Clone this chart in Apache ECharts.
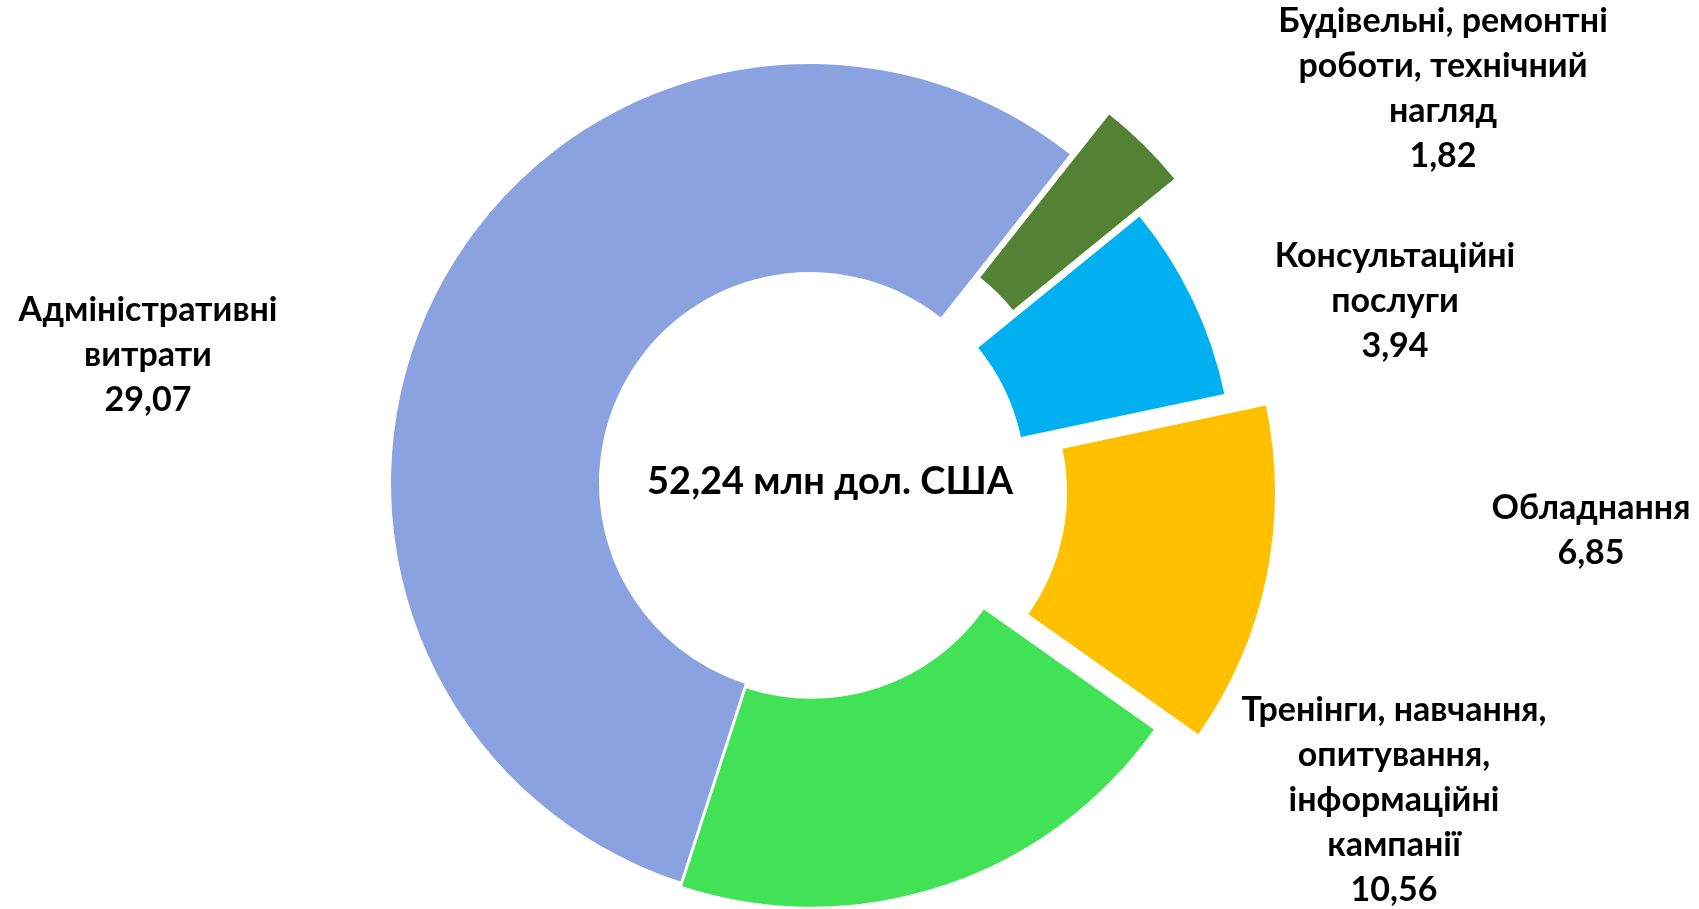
<!DOCTYPE html>
<html>
<head>
<meta charset="utf-8">
<script src="https://cdn.jsdelivr.net/npm/echarts@6/dist/echarts.min.js"></script>
<style>
  html, body { margin: 0; padding: 0; background: #fff; }
  #chart { width: 1699px; height: 909px; }
</style>
</head>
<body>
<div id="chart"></div>
<script>
// data
const categories = [
  "Адміністративні\nвитрати",
  "Будівельні, ремонтні\nроботи, технічний\nнагляд",
  "Консультаційні\nпослуги",
  "Обладнання",
  "Тренінги, навчання,\nопитування,\nінформаційні\nкампанії"
];
const values = [29.07, 1.82, 3.94, 6.85, 10.56];
const totalText = "52,24 млн дол. США";

// look
const colors = ["#8BA2E0", "#548235", "#00B0F0", "#FFC000", "#42E256"];
const explode = [0, 56, 5, 47, 5];
const labelPos = [[148, 355], [1443, 89], [1395, 301], [1591, 531], [1394, 800]];
const FONT = "Lato, 'Open Sans', sans-serif";
const CENTER = [810, 483];
const RADIUS = [211, 419];

const chart = echarts.init(document.getElementById("chart"));

function basePie() {
  return {
    type: "pie",
    center: CENTER,
    radius: RADIUS,
    startAngle: 252,
    clockwise: true,
    silent: true,
    emphasis: { disabled: true },
    labelLine: { show: false }
  };
}

// one pie per explode distance, all with the full data so the angles match
const offsets = [...new Set(explode)];
const series = offsets.map(function (off) {
  return Object.assign(basePie(), {
    selectedMode: "multiple",
    selectedOffset: off,
    label: { show: false },
    data: categories.map(function (name, i) {
      const mine = explode[i] === off;
      return {
        name: name,
        value: values[i],
        selected: mine && off > 0,
        itemStyle: { color: mine ? colors[i] : "rgba(0,0,0,0)" }
      };
    })
  });
});

// labels on an invisible copy of the pie
series.push(Object.assign(basePie(), {
  itemStyle: { color: "rgba(0,0,0,0)" },
  avoidLabelOverlap: false,
  label: {
    show: true,
    position: "outside",
    color: "#000",
    fontFamily: FONT,
    fontWeight: "bold",
    fontSize: 34,
    lineHeight: 45,
    formatter: function (p) {
      return p.name + "\n" + p.value.toFixed(2).replace(".", ",");
    }
  },
  labelLayout: function (p) {
    const pos = labelPos[p.dataIndex];
    return { x: pos[0], y: pos[1], align: "center", verticalAlign: "middle" };
  },
  data: categories.map(function (name, i) {
    return { name: name, value: values[i] };
  })
}));

chart.setOption({
  animation: false,
  graphic: [{
    type: "text",
    x: 830,
    y: 482,
    style: {
      text: totalText,
      fill: "#000",
      font: "bold 38px " + FONT,
      align: "center",
      verticalAlign: "middle"
    }
  }],
  series: series
});
</script>
</body>
</html>
